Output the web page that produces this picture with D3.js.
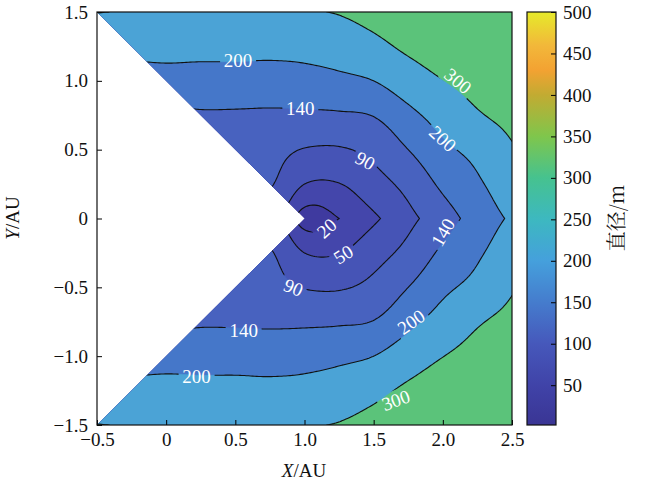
<!DOCTYPE html>
<html>
<head>
<meta charset="utf-8">
<script src="https://cdn.jsdelivr.net/npm/d3@7"></script>
<style>
  body { margin: 0; background: #fff; }
  text { font-family: "Liberation Serif", "DejaVu Serif", serif; }
</style>
</head>
<body>
<div id="chart"></div>
<script>
// grid (upper half, y >= 0; the field is mirror symmetric in y)
var gridX = [-0.5, -0.25, 0, 0.25, 0.5, 0.75, 1.0, 1.25, 1.5, 1.75, 2.0, 2.25, 2.5]
var gridY = [0, 0.25, 0.5, 0.75, 1.0, 1.25, 1.5]
var gridValues = [
  [100, 95, 90, 85, 80, 70, 5, 20, 44, 78, 117, 163, 210],
  [110, 105, 100, 95, 90, 93, 50, 49, 73, 104, 150, 190, 245],
  [125, 120, 115, 108, 115, 106, 88, 86, 103, 140, 185, 225, 290],
  [145, 140, 130, 134, 134, 132, 132, 134, 142, 182, 232, 290, 330],
  [175, 170, 176, 176, 176, 175, 177, 185, 200, 245, 298, 340, 370],
  [235, 228, 225, 222, 222, 220, 225, 240, 272, 322, 370, 400, 420],
  [302, 296, 290, 287, 286, 288, 294, 306, 342, 390, 430, 450, 470]
]
var levels = [20, 50, 90, 140, 200, 300]
var bandColors = ["#3f3a9f", "#4446ab", "#4654b6", "#4862bf", "#4577c9", "#4ba3d6", "#5bc37a"]
var xTicks = [-0.5, 0, 0.5, 1.0, 1.5, 2.0, 2.5]
var yTicks = [-1.5, -1.0, -0.5, 0, 0.5, 1.0, 1.5]
var cbTicks = [50, 100, 150, 200, 250, 300, 350, 400, 450, 500]
var cbStops = [
  [0, "#3a3594"], [50, "#4043a8"], [100, "#4658bb"], [150, "#457ccd"], [200, "#45a0dc"],
  [250, "#3db8c0"], [300, "#46c28f"], [350, "#7fc64c"], [400, "#c2ab32"], [430, "#f3a232"],
  [460, "#f2b83a"], [500, "#e6ea2a"]
]
// contour labels: x, y, text, rotation
var labels = [
  [0.52, 1.15, "200", 0], [0.97, 0.80, "140", 0], [1.44, 0.42, "90", 28],
  [2.11, 1.00, "300", 40], [2.00, 0.58, "200", 42], [1.16, -0.07, "20", -42],
  [1.28, -0.26, "50", -32], [0.92, -0.50, "90", 22], [2.00, -0.10, "140", -60],
  [0.56, -0.81, "140", 0], [1.77, -0.75, "200", -35], [0.22, -1.15, "200", 0],
  [1.66, -1.32, "300", -20]
]

var width = 650, height = 485

var svg = d3.select("#chart").append("svg")
  .attr("width", width).attr("height", height)

var x = d3.scaleLinear().domain([-0.5, 2.5]).range([97, 512])
var y = d3.scaleLinear().domain([-1.5, 1.5]).range([425, 12])

// cubic (catmull-rom) resampling of the read grid so the lines come out smooth
function cr(p0, p1, p2, p3, t) {
  return 0.5 * ((2 * p1) + (-p0 + p2) * t + (2 * p0 - 5 * p1 + 4 * p2 - p3) * t * t +
    (-p0 + 3 * p1 - 3 * p2 + p3) * t * t * t)
}
function at(arr, i) {
  var n = arr.length
  if (i < 0) return 2 * arr[0] - arr[1]
  if (i >= n) return 2 * arr[n - 1] - arr[n - 2]
  return arr[i]
}
function interp1(arr, u) {
  var i = Math.min(Math.floor(u), arr.length - 2), t = u - i
  return cr(at(arr, i - 1), at(arr, i), at(arr, i + 1), at(arr, i + 2), t)
}
function field(px, py) {
  var u = (px - gridX[0]) / 0.25, v = Math.abs(py) / 0.25
  var rows = gridValues.map(function(r) { return interp1(r, u) })
  return interp1(rows, v)
}

var step = 0.015
var nx = Math.round(3 / step) + 1, ny = Math.round(3 / step) + 1
var values = new Array(nx * ny)
for (var j = 0; j < ny; j++) {
  for (var i = 0; i < nx; i++) {
    values[j * nx + i] = field(-0.5 + i * step, 1.5 - j * step)
  }
}

var proj = d3.geoTransform({
  point: function(px, py) {
    this.stream.point(x(-0.5 + (px - 0.5) * step), y(1.5 - (py - 0.5) * step))
  }
})
var path = d3.geoPath(proj)

var clipPts = [[-0.5, 1.5], [2.5, 1.5], [2.5, -1.5], [-0.5, -1.5], [1, 0]]
svg.append("clipPath").attr("id", "plotclip")
  .append("polygon")
  .attr("points", clipPts.map(function(p) { return x(p[0]) + "," + y(p[1]) }).join(" "))

var plot = svg.append("g").attr("clip-path", "url(#plotclip)")

var fillThresholds = [-1000].concat(levels)
var filled = d3.contours().size([nx, ny]).thresholds(fillThresholds)(values)
plot.selectAll("path.band").data(filled).enter().append("path")
  .attr("class", "band")
  .attr("d", path)
  .attr("fill", function(d, k) { return bandColors[k] })
  .attr("stroke", function(d, k) { return bandColors[k] })
  .attr("stroke-width", 0.5)

// mask that cuts the lines under the labels
var mask = svg.append("mask").attr("id", "labelmask")
mask.append("rect").attr("x", 0).attr("y", 0).attr("width", width).attr("height", height).attr("fill", "white")
labels.forEach(function(l) {
  var w = l[2].length * 10 + 6
  mask.append("rect")
    .attr("x", -w / 2).attr("y", -10).attr("width", w).attr("height", 20)
    .attr("fill", "black")
    .attr("transform", "translate(" + x(l[0]) + "," + y(l[1]) + ") rotate(" + l[3] + ")")
})

var lines = d3.contours().size([nx, ny]).thresholds(levels)(values)
plot.append("g").attr("mask", "url(#labelmask)")
  .selectAll("path").data(lines).enter().append("path")
  .attr("d", path)
  .attr("fill", "none")
  .attr("stroke", "#111")
  .attr("stroke-width", 1.1)

plot.selectAll("text.clab").data(labels).enter().append("text")
  .attr("class", "clab")
  .attr("transform", function(l) { return "translate(" + x(l[0]) + "," + y(l[1]) + ") rotate(" + l[3] + ")" })
  .attr("text-anchor", "middle")
  .attr("dy", "0.35em")
  .attr("fill", "white")
  .attr("font-size", 19)
  .text(function(l) { return l[2] })

// axes
function fmt(v) {
  var s = v === 0 ? "0" : d3.format(".1f")(Math.abs(v))
  return v < 0 ? "\u2212" + s : s
}
svg.append("g").attr("transform", "translate(0,425)")
  .call(d3.axisBottom(x).tickValues(xTicks).tickSize(-5).tickPadding(8).tickFormat(fmt))
svg.append("g").attr("transform", "translate(97,0)")
  .call(d3.axisLeft(y).tickValues(yTicks).tickSize(-5).tickPadding(9).tickFormat(fmt))
svg.selectAll(".domain").remove()
svg.selectAll(".tick text").attr("fill", "#111")
  .style("font-size", "19px").style("font-family", "'Liberation Serif', serif")
svg.append("rect").attr("x", 97).attr("y", 12).attr("width", 415).attr("height", 413)
  .attr("fill", "none").attr("stroke", "#111").attr("stroke-width", 1.2)

var xl = svg.append("text").attr("x", 304).attr("y", 477).attr("text-anchor", "middle")
  .attr("font-size", 19).attr("fill", "#111")
xl.append("tspan").attr("font-style", "italic").text("X")
xl.append("tspan").text("/AU")
var yl = svg.append("text").attr("transform", "translate(19,218) rotate(-90)")
  .attr("text-anchor", "middle").attr("font-size", 19).attr("fill", "#111")
yl.append("tspan").attr("font-style", "italic").text("Y")
yl.append("tspan").text("/AU")

// colorbar
var cb = d3.scaleLinear().domain([2, 500]).range([425, 12])
var grad = svg.append("defs").append("linearGradient").attr("id", "cbgrad")
  .attr("x1", 0).attr("y1", 1).attr("x2", 0).attr("y2", 0)
cbStops.forEach(function(s) {
  grad.append("stop").attr("offset", Math.max(0, (s[0] - 2) / 498)).attr("stop-color", s[1])
})
svg.append("rect").attr("x", 527).attr("y", 12).attr("width", 29).attr("height", 413)
  .attr("fill", "url(#cbgrad)")
svg.append("g").attr("transform", "translate(556,0)")
  .call(d3.axisRight(cb).tickValues(cbTicks).tickSize(-5).tickPadding(7))
  .call(function(g) { g.select(".domain").remove() })
  .selectAll("text").attr("fill", "#111")
  .style("font-size", "19px").style("font-family", "'Liberation Serif', serif")
svg.append("rect").attr("x", 527).attr("y", 12).attr("width", 29).attr("height", 413)
  .attr("fill", "none").attr("stroke", "#111").attr("stroke-width", 1.2)
svg.append("text").attr("transform", "translate(624,218) rotate(-90)")
  .attr("text-anchor", "middle").attr("font-size", 20).attr("fill", "#111")
  .style("font-family", "'Noto Serif CJK SC', 'Noto Sans CJK SC', serif")
  .text("直径/m")
</script>
</body>
</html>
